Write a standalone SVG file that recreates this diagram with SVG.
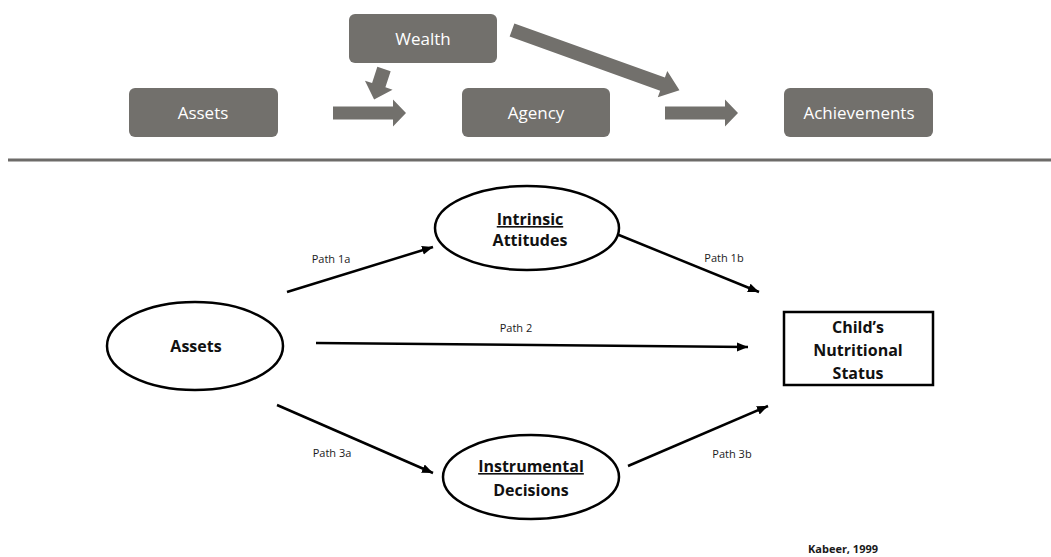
<svg xmlns="http://www.w3.org/2000/svg" width="1051" height="557" viewBox="0 0 1051 557">
<style>
.box{fill:#72706c}
.btxt{font-family:"Open Sans","Liberation Sans",sans-serif;font-size:17px;fill:#ffffff;text-anchor:middle}
.blk{fill:#72706c}
.ell{fill:#ffffff;stroke:#000;stroke-width:2.5}
.ntxt{font-family:"Open Sans","Liberation Sans",sans-serif;font-size:16px;font-weight:bold;fill:#111;text-anchor:middle}
.lbl{font-family:"Open Sans","Liberation Sans",sans-serif;font-size:11px;fill:#1a1a1a;text-anchor:middle}
.con{stroke:#000;stroke-width:2.5;fill:none;marker-end:url(#ah)}
</style>
<defs>
<marker id="ah" markerUnits="userSpaceOnUse" markerWidth="12" markerHeight="10" refX="11" refY="4.5" orient="auto">
<path d="M0,0 L11,4.5 L0,9 Z" fill="#000"/>
</marker>
<path id="harrow" d="M0,-6.5 H60 V-13.5 L73,0 L60,13.5 V6.5 H0 Z"/>
</defs>
<rect width="1051" height="557" fill="#ffffff"/>
<g id="top-wealth"><rect class="box" x="349" y="14" width="148" height="49" rx="6"/><text class="btxt" x="423" y="45">Wealth</text></g>
<g id="top-assets"><rect class="box" x="129" y="88" width="149" height="49" rx="6"/><text class="btxt" x="203" y="119">Assets</text></g>
<g id="top-agency"><rect class="box" x="462" y="88" width="148" height="49" rx="6"/><text class="btxt" x="536" y="119">Agency</text></g>
<g id="top-achievements"><rect class="box" x="784" y="88" width="149" height="49" rx="6"/><text class="btxt" x="859" y="119">Achievements</text></g>
<g id="top-arrows">
<use href="#harrow" class="blk" transform="translate(333,113)"/>
<use href="#harrow" class="blk" transform="translate(665,113)"/>
<path class="blk" d="M0,-7 H17 V-14.5 L32,0 L17,14.5 V7 H0 Z" transform="translate(384,69) rotate(108)"/>
<path class="blk" d="M0,-7 H160 V-14 L178,0 L160,14 V7 H0 Z" transform="translate(512,30) rotate(19.8)"/>
</g>
<line x1="8" y1="160" x2="1051" y2="160" stroke="#6d6b69" stroke-width="3"/>
<g id="connectors">
<line class="con" x1="287" y1="292" x2="433" y2="247"/>
<line class="con" x1="614" y1="233" x2="759" y2="292"/>
<line class="con" x1="316" y1="343" x2="748" y2="347"/>
<line class="con" x1="277" y1="405" x2="433" y2="473"/>
<line class="con" x1="628" y1="466" x2="768" y2="406"/>
<text class="lbl" x="331" y="263">Path 1a</text>
<text class="lbl" x="724" y="262">Path 1b</text>
<text class="lbl" x="516" y="332">Path 2</text>
<text class="lbl" x="332" y="457">Path 3a</text>
<text class="lbl" x="732" y="458">Path 3b</text>
</g>
<g id="assets"><ellipse class="ell" cx="195" cy="346" rx="88" ry="44"/><text class="ntxt" x="196" y="352">Assets</text></g>
<g id="intrinsic"><ellipse class="ell" cx="527" cy="228" rx="92" ry="42"/><text class="ntxt" x="530" y="225" text-decoration="underline">Intrinsic</text><text class="ntxt" x="530" y="246">Attitudes</text></g>
<g id="instrumental"><ellipse class="ell" cx="531" cy="477" rx="88" ry="42"/><text class="ntxt" x="531" y="472" text-decoration="underline">Instrumental</text><text class="ntxt" x="531" y="496">Decisions</text></g>
<g id="child"><rect x="784" y="312" width="149" height="73" fill="#fff" stroke="#000" stroke-width="2.5"/><text class="ntxt" x="858" y="333">Child’s</text><text class="ntxt" x="858" y="356">Nutritional</text><text class="ntxt" x="858" y="379">Status</text></g>
<text x="843" y="553" font-family="'Open Sans','Liberation Sans',sans-serif" font-size="11" font-weight="bold" fill="#1a1a1a" text-anchor="middle">Kabeer, 1999</text>
</svg>
